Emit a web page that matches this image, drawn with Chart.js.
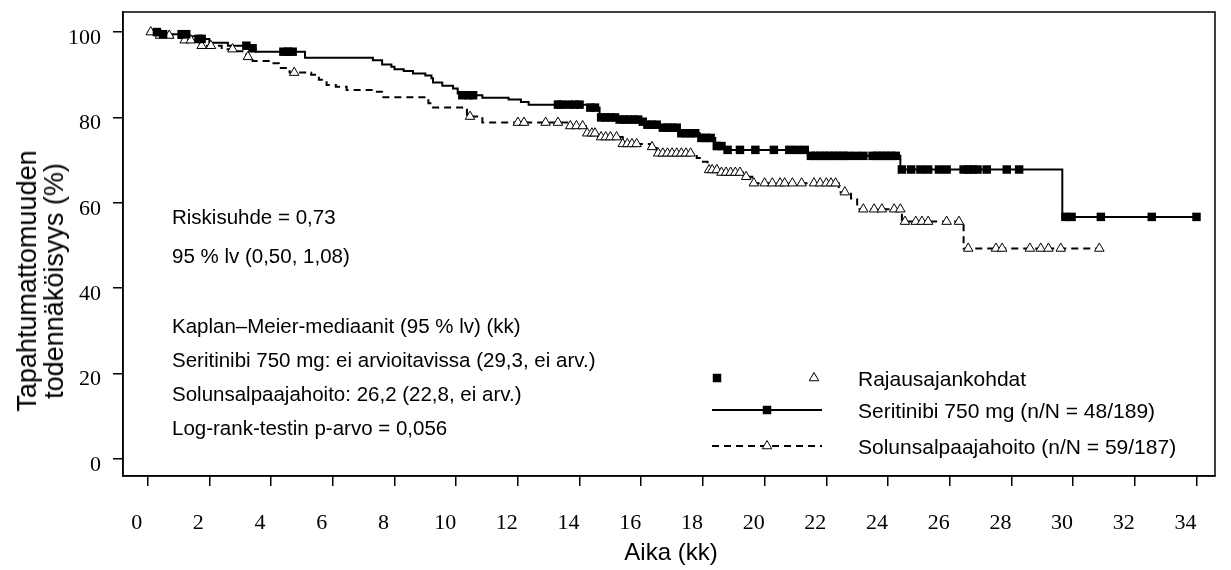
<!DOCTYPE html>
<html>
<head>
<meta charset="utf-8">
<script src="https://cdn.jsdelivr.net/npm/chart.js@4.4.0/dist/chart.umd.min.js"></script>
<style>
html, body { margin: 0; padding: 0; background: #fff; }
#wrap { position: relative; width: 1231px; height: 570px; }
canvas { position: absolute; left: 0; top: 0; }
.t { position: absolute; font-family: "Liberation Sans", Arial, sans-serif; color: #000; white-space: nowrap; line-height: 1; transform: translateY(-50%); }
.note { left: 172px; font-size: 20.5px; }
.leg { left: 858px; font-size: 21px; }
#xtitle { left: 671px; top: 552px; font-size: 24px; transform: translate(-50%, -50%); }
#ytitle { left: 41px; top: 281px; font-size: 27px; line-height: 1.0; text-align: center; transform: translate(-50%, -50%) rotate(-90deg); }
</style>
</head>
<body>
<div id="wrap">
<canvas id="km" width="1231" height="570"></canvas>
<div class="t note" style="top:217px">Riskisuhde = 0,73</div>
<div class="t note" style="top:256px">95 % lv (0,50, 1,08)</div>
<div class="t note" style="top:326px">Kaplan–Meier-mediaanit (95 % lv) (kk)</div>
<div class="t note" style="top:360px">Seritinibi 750 mg: ei arvioitavissa (29,3, ei arv.)</div>
<div class="t note" style="top:394px">Solunsalpaajahoito: 26,2 (22,8, ei arv.)</div>
<div class="t note" style="top:428px">Log-rank-testin p-arvo = 0,056</div>
<div class="t leg" style="top:378px">Rajausajankohdat</div>
<div class="t leg" style="top:410px">Seritinibi 750 mg (n/N = 48/189)</div>
<div class="t leg" style="top:446px">Solunsalpaajahoito (n/N = 59/187)</div>
<div class="t" id="xtitle">Aika (kk)</div>
<div class="t" id="ytitle">Tapahtumattomuuden<br>todennäköisyys (%)</div>
</div>
<script>
const xTicks = [0, 2, 4, 6, 8, 10, 12, 14, 16, 18, 20, 22, 24, 26, 28, 30, 32, 34];
const yTicks = [0, 20, 40, 60, 80, 100];

// Seritinibi 750 mg: step times (kk) and survival (%)
const seriTime = [0, 0.4, 1.3, 1.6, 2.0, 2.6, 3.3, 3.5, 5.1, 7.3, 7.6, 7.9, 8.0, 8.3, 8.6, 9.0, 9.2, 9.25, 9.55, 9.9,
  10.05, 10.15, 10.85, 11.7, 12.1, 12.35, 14.3, 14.65, 15.2, 16.0, 16.1, 16.6, 17.2, 17.9, 18.4, 18.7, 21.4, 24.4, 29.65, 34.0];
const seriSurv = [100, 99.5, 99.0, 98.4, 97.5, 96.8, 96.2, 95.4, 94.0, 93.4, 92.4, 91.9, 91.3, 90.9, 90.3, 89.8, 89.2, 88.2, 87.4, 86.8,
  85.6, 85.2, 84.6, 84.2, 83.6, 83.0, 82.3, 80.0, 79.5, 79.0, 78.3, 77.6, 76.3, 75.2, 73.3, 72.4, 71.0, 67.8, 56.7, 56.7];

// Solunsalpaajahoito
const chemoTime = [0, 0.4, 0.8, 1.2, 1.5, 1.7, 2.4, 2.8, 3.2, 3.4, 4.0, 4.25, 4.6, 5.3, 5.55, 5.8, 6.1, 6.45, 7.3, 7.6,
  9.1, 9.2, 10.35, 10.85, 13.6, 14.2, 14.6, 15.4, 16.3, 16.5, 17.8, 18.0, 18.15, 18.55, 19.3, 19.6, 22.4, 22.8, 23.0, 24.45, 26.45, 30.85];
const chemoSurv = [100, 99.2, 98.6, 98.1, 97.6, 96.8, 96.0, 95.5, 94.2, 93.2, 92.7, 91.6, 90.5, 90.0, 88.8, 87.6, 87.2, 86.4, 86.0, 84.7,
  83.3, 82.3, 80.2, 78.8, 78.0, 76.3, 75.4, 73.8, 73.1, 71.6, 70.5, 69.6, 67.7, 67.1, 66.1, 64.6, 62.5, 61.0, 58.5, 55.6, 49.3, 49.3];

// censoring times (kk)
const seriCensor = [0.3, 0.5, 1.1, 1.25, 1.65, 1.75, 3.2, 3.4, 4.4, 4.55, 4.7, 10.2, 10.4, 10.55, 13.3, 13.4, 13.65, 13.85, 14.0,
  14.35, 14.5, 14.7, 14.85, 15.0, 15.15, 15.3, 15.45, 15.6, 15.75, 15.9, 16.05, 16.2, 16.35, 16.5, 16.7, 16.85, 17.0, 17.15, 17.3,
  17.45, 17.6, 17.75, 17.95, 18.1, 18.25, 18.45, 18.6, 18.8, 19.2, 19.7, 20.3, 20.8, 21.05, 21.3, 21.5, 21.65, 21.8, 21.95, 22.1,
  22.25, 22.4, 22.55, 22.7, 22.95, 23.2, 23.5, 23.65, 23.8, 23.95, 24.1, 24.25, 24.45, 24.75, 25.05, 25.3, 25.65, 25.9, 26.45,
  26.6, 26.75, 26.9, 27.2, 27.85, 28.25, 29.75, 29.95, 30.9, 32.55, 34.0];
const chemoCensor = [0.1, 0.4, 0.7, 1.2, 1.4, 1.75, 2.05, 2.75, 3.25, 4.75, 10.45, 12.0, 12.2, 12.9, 13.3, 13.7, 13.9, 14.1,
  14.25, 14.4, 14.5, 14.7, 14.85, 15.0, 15.2, 15.4, 15.55, 15.7, 15.85, 16.35, 16.55, 16.7, 16.85, 17.0, 17.15, 17.3, 17.45, 17.6,
  18.2, 18.3, 18.45, 18.6, 18.75, 18.9, 19.05, 19.2, 19.4, 19.65, 20.0, 20.25, 20.5, 20.65, 20.9, 21.2, 21.6, 21.8, 22.0, 22.15,
  22.3, 22.6, 23.2, 23.55, 23.8, 24.2, 24.4, 24.55, 24.9, 25.1, 25.3, 25.9, 26.3, 26.6, 27.5, 27.7, 28.6, 28.95, 29.2, 29.6, 30.85];

function steps(times, surv) {
    return times.map((t, i) => ({x: t, y: surv[i]}));
}

// censor mark sits on the curve value at that time
function marks(censor, times, surv) {
    return censor.map(c => {
        let s = surv[0];
        for (let i = 0; i < times.length; i++) {
            if (times[i] <= c) s = surv[i];
        }
        return {x: c, y: s};
    });
}

const SQ_R = 6, TRI_R = 5.5;

const frame = {
    id: 'frame',
    afterDraw(chart) {
        const ctx = chart.ctx, a = chart.chartArea;
        ctx.save();
        ctx.strokeStyle = '#000';
        ctx.lineWidth = 1.5;
        ctx.strokeRect(a.left, a.top, a.right - a.left, a.bottom - a.top);

        // legend symbols
        const sq = {pointStyle: 'rect', radius: SQ_R, borderWidth: 0, rotation: 0};
        const tri = {pointStyle: 'triangle', radius: TRI_R, borderWidth: 1, rotation: 0};
        ctx.fillStyle = '#000';
        Chart.helpers.drawPoint(ctx, sq, 717, 378);
        ctx.fillStyle = '#fff';
        ctx.lineWidth = 1;
        Chart.helpers.drawPoint(ctx, tri, 814, 378);

        ctx.lineWidth = 2;
        ctx.beginPath();
        ctx.moveTo(712, 410);
        ctx.lineTo(822, 410);
        ctx.stroke();
        ctx.fillStyle = '#000';
        Chart.helpers.drawPoint(ctx, sq, 767, 410);

        ctx.lineWidth = 2;
        ctx.setLineDash([7, 5]);
        ctx.beginPath();
        ctx.moveTo(712, 446);
        ctx.lineTo(822, 446);
        ctx.stroke();
        ctx.setLineDash([]);
        ctx.lineWidth = 1;
        ctx.fillStyle = '#fff';
        Chart.helpers.drawPoint(ctx, tri, 767, 446);
        ctx.restore();
    }
};

const tickFont = {family: '"Liberation Serif", "Times New Roman", serif', size: 22};

new Chart(document.getElementById('km').getContext('2d'), {
    type: 'line',
    data: {
        datasets: [{
            label: 'Seritinibi sensuroitu',
            data: marks(seriCensor, seriTime, seriSurv),
            showLine: false,
            pointStyle: 'rect',
            pointRadius: SQ_R,
            pointBackgroundColor: '#000',
            pointBorderWidth: 0,
            order: 0
        }, {
            label: 'Solunsalpaajahoito sensuroitu',
            data: marks(chemoCensor, chemoTime, chemoSurv),
            showLine: false,
            pointStyle: 'triangle',
            pointRadius: TRI_R,
            pointBackgroundColor: '#fff',
            pointBorderColor: '#000',
            pointBorderWidth: 1,
            order: 0
        }, {
            label: 'Seritinibi 750 mg',
            data: steps(seriTime, seriSurv),
            stepped: true,
            borderColor: '#000',
            borderWidth: 2,
            pointRadius: 0,
            fill: false,
            order: 1
        }, {
            label: 'Solunsalpaajahoito',
            data: steps(chemoTime, chemoSurv),
            stepped: true,
            borderColor: '#000',
            borderWidth: 2,
            borderDash: [7, 5],
            pointRadius: 0,
            fill: false,
            order: 1
        }]
    },
    options: {
        responsive: false,
        animation: false,
        layout: {padding: {top: 12, right: 16, left: 0, bottom: 0}},
        plugins: {legend: {display: false}, tooltip: {enabled: false}},
        scales: {
            x: {
                type: 'linear',
                min: -0.8,
                max: 34.6,
                afterBuildTicks: s => { s.ticks = xTicks.map(v => ({value: v})); },
                afterFit: s => { s.height = 94; s.paddingLeft = 0; s.paddingRight = 0; },
                ticks: {font: tickFont, color: '#000', padding: 24, labelOffset: -11, maxRotation: 0, autoSkip: false},
                grid: {drawOnChartArea: false, drawTicks: true, tickLength: 10, color: '#000', lineWidth: 1.5},
                border: {display: true, color: '#000', width: 1.5}
            },
            y: {
                min: -4,
                max: 104.7,
                afterBuildTicks: s => { s.ticks = yTicks.map(v => ({value: v})); },
                afterFit: s => { s.width = 123; s.paddingTop = 0; s.paddingBottom = 0; },
                ticks: {font: tickFont, color: '#000', padding: 12, labelOffset: 6},
                grid: {drawOnChartArea: false, drawTicks: true, tickLength: 10, color: '#000', lineWidth: 1.5},
                border: {display: true, color: '#000', width: 1.5}
            }
        }
    },
    plugins: [frame]
});
</script>
</body>
</html>
